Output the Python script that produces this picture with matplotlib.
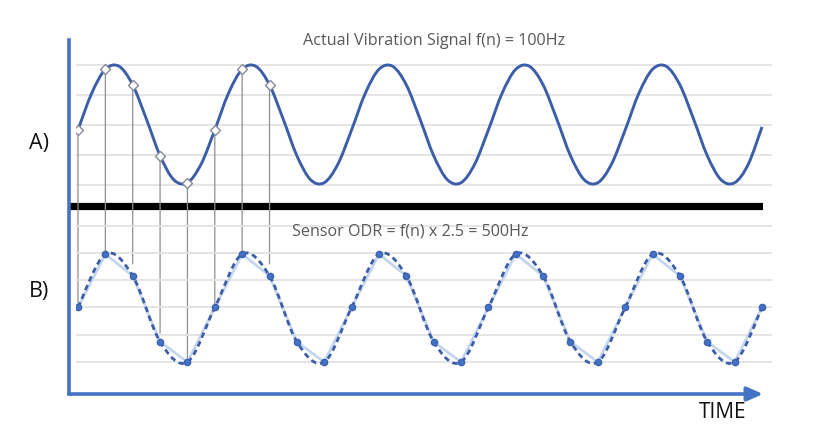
import matplotlib
matplotlib.use("Agg")
import matplotlib.pyplot as plt
from matplotlib.path import Path
from matplotlib.patches import PathPatch, ConnectionPatch

# actual vibration signal f(n) = 100Hz, read every 1 ms (normalised amplitude)
sig_t = list(range(0, 51))
sig_v = [-0.09, 0.52, 0.92, 0.97, 0.66, 0.09, -0.52, -0.92, -0.97, -0.66,
         -0.09, 0.52, 0.92, 0.97, 0.66, 0.09, -0.52, -0.92, -0.97, -0.66,
         -0.09, 0.52, 0.92, 0.97, 0.66, 0.09, -0.52, -0.92, -0.97, -0.66,
         -0.09, 0.52, 0.92, 0.97, 0.66, 0.09, -0.52, -0.92, -0.97, -0.66,
         -0.09, 0.52, 0.92, 0.97, 0.66, 0.09, -0.52, -0.92, -0.97, -0.66,
         -0.04]

# sampled points marked on the actual signal (every 2 ms)
mark_t = [0, 2, 4, 6, 8, 10, 12, 14]
mark_v = [-0.09, 0.92, 0.66, -0.52, -0.97, -0.09, 0.92, 0.66]
# where the drop lines end in panel B
drop_v = [0.0, 0.98, 0.8, -0.47, -1.0, 0.07, 0.98, 0.8]

# sensor output at ODR 500Hz
odr_t = list(range(0, 51, 2))
odr_v = [0.0, 0.98, 0.58, -0.63, -1.0,
         0.0, 0.98, 0.58, -0.63, -1.0,
         0.0, 0.98, 0.58, -0.63, -1.0,
         0.0, 0.98, 0.58, -0.63, -1.0,
         0.0, 0.98, 0.58, -0.63, -1.0,
         0.0]

grid_top = [-1, -0.5, 0, 0.5, 1]
grid_bot = [-1, -0.5, 0, 0.5, 1, 1.5]

title_a = "Actual Vibration Signal f(n) = 100Hz"
title_b = "Sensor ODR = f(n) x 2.5 = 500Hz"

BLUE = "#3c5ea8"
AXIS_BLUE = "#4472c4"
W, H = 830, 436

plt.rcParams["font.family"] = ["Open Sans", "DejaVu Sans"]


def box(l, t, r, b):
    return [l / W, 1 - b / H, (r - l) / W, (b - t) / H]


def smooth_path(x, y):
    # catmull-rom style smoothing (like a spreadsheet "smoothed line")
    pts = list(zip(x, y))
    verts = [pts[0]]
    codes = [Path.MOVETO]
    n = len(pts)
    for i in range(n - 1):
        p0 = pts[max(i - 1, 0)]
        p1 = pts[i]
        p2 = pts[i + 1]
        p3 = pts[min(i + 2, n - 1)]
        c1 = (p1[0] + (p2[0] - p0[0]) / 6, p1[1] + (p2[1] - p0[1]) / 6)
        c2 = (p2[0] - (p3[0] - p1[0]) / 6, p2[1] - (p3[1] - p1[1]) / 6)
        verts += [c1, c2, p2]
        codes += [Path.CURVE4] * 3
    return Path(verts, codes)


def panel(rect, ylim, gridvals):
    ax = fig.add_axes(rect)
    ax.set_xlim((76 - 78) / 13.68, (772 - 78) / 13.68)
    ax.set_ylim(*ylim)
    ax.patch.set_alpha(0)
    for s in ax.spines.values():
        s.set_visible(False)
    ax.set_xticks([])
    ax.set_yticks(gridvals)
    ax.tick_params(length=0, labelleft=False)
    ax.grid(axis="y", color="#e3e3e3", lw=1.3)
    ax.set_axisbelow(True)
    return ax


fig = plt.figure(figsize=(8.3, 4.36), dpi=100)

# frame with the blue time axes
frame = fig.add_axes(box(69, 40, 763, 394))
frame.set_xlim(0, 1)
frame.set_ylim(0, 1)
frame.set_xticks([])
frame.set_yticks([])
for s in ["top", "right", "bottom"]:
    frame.spines[s].set_visible(False)
frame.spines["left"].set_color(AXIS_BLUE)
frame.spines["left"].set_linewidth(2.6)
frame.annotate("", xy=(1, 0), xytext=(0, 0), xycoords="axes fraction",
               arrowprops=dict(arrowstyle="-|>,head_length=0.95,head_width=0.42",
                               color=AXIS_BLUE, lw=2.6, shrinkA=0, shrinkB=0))
frame.axhline(0.531, xmin=0.004, xmax=1.0, color="black", lw=5.2)

top = panel(box(76, 50, 772, 200), (-1.2583, 1.2417), grid_top)
bot = panel(box(76, 215, 772, 385), (-1.422, 1.697), grid_bot)

# A) actual signal
top.add_patch(PathPatch(smooth_path(sig_t, sig_v), fill=False,
                        edgecolor=BLUE, lw=2.1, zorder=3))
top.plot(mark_t, mark_v, linestyle="none", marker="D", markersize=4.6,
         markerfacecolor="white", markeredgecolor="#858a9a",
         markeredgewidth=1.0, zorder=4)

# drop lines from signal to sensor samples
for t, v0, v1 in zip(mark_t, mark_v, drop_v):
    con = ConnectionPatch(xyA=(t, v0), coordsA=top.transData,
                          xyB=(t, v1), coordsB=bot.transData,
                          color="#8f8f8f", lw=0.9, zorder=2)
    top.add_artist(con)

# B) sensor samples
bot.plot(odr_t, odr_v, color="#c3d6ee", lw=2.0, zorder=3)
bot.add_patch(PathPatch(smooth_path(odr_t, odr_v), fill=False,
                        edgecolor=BLUE, lw=2.0, linestyle=(0, (2.0, 1.4)),
                        zorder=4))
bot.plot(odr_t, odr_v, linestyle="none", marker="o", markersize=4.5,
         color=AXIS_BLUE, markeredgecolor="#3a62b0", zorder=5)

fig.text(434 / W, 1 - 41 / H, title_a, ha="center", va="center",
         fontsize=11.6, color="#595959")
fig.text(410 / W, 1 - 231 / H, title_b, ha="center", va="center",
         fontsize=11.6, color="#595959")
fig.text(39 / W, 1 - 143 / H, "A)", ha="center", va="center",
         fontsize=15.5, color="#111111")
fig.text(39 / W, 1 - 292 / H, "B)", ha="center", va="center",
         fontsize=15.5, color="#111111")
fig.text(723 / W, 1 - 412 / H, "TIME", ha="center", va="center",
         fontsize=15, color="#111111")

fig.savefig("out.png", dpi=100, facecolor="white")
